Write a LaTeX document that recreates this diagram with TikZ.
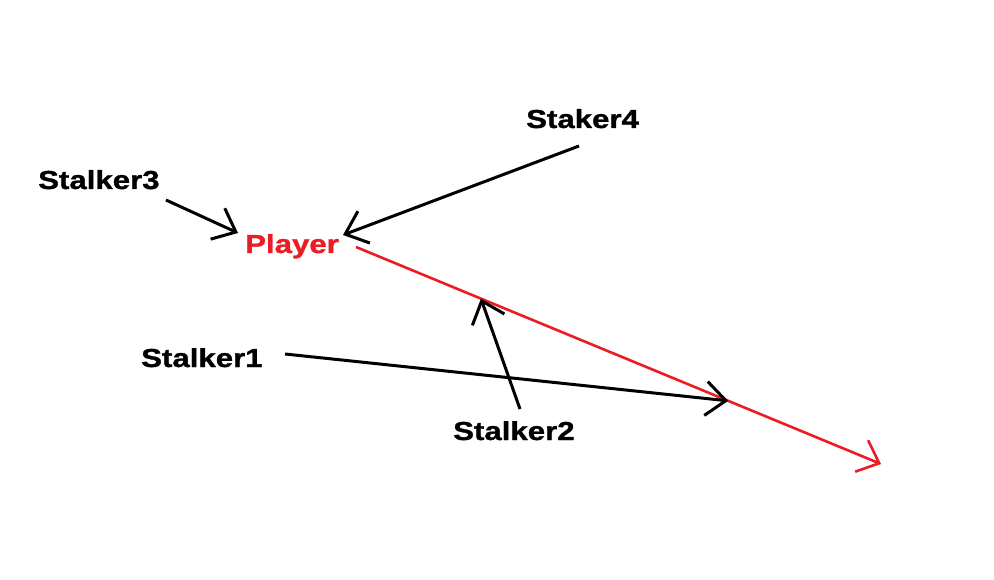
\documentclass[tikz,border=0pt]{standalone}
\usepackage{fontspec}
\usepackage{xcolor}
\usetikzlibrary{arrows.meta}
\newfontfamily\paintfont[FakeStretch=1.2, BoldFeatures={FakeBold=1.2}]{Liberation Sans}
\definecolor{PaintRed}{HTML}{ED1C24}
\definecolor{PaintBlack}{HTML}{000000}

\begin{document}
\begin{tikzpicture}[x=1pt, y=-1pt,
        label/.style={anchor=base west, inner sep=0pt, text=PaintBlack,
                      font=\paintfont\bfseries\fontsize{26}{30}\selectfont},
        chase/.style={draw=PaintBlack, line width=3pt,
                      -{Straight Barb[length=20pt, width=34pt, line width=3pt]}},
        route/.style={draw=PaintRed, line width=2.6pt,
                      -{Straight Barb[length=19pt, width=34pt, line width=2.6pt]}}]
        \useasboundingbox[fill=white] (0,0) rectangle (994,580);
        % names
        \node[label] (s3) at (38,189) {Stalker3};
        \node[label, text=PaintRed] (player) at (245,253) {Player};
        \node[label] (s4) at (526,128) {Staker4};
        \node[label] (s1) at (141,367) {Stalker1};
        \node[label] (s2) at (453,440) {Stalker2};
        % ends of the lines
        \coordinate (s3tail) at (166,200);
        \coordinate (s3head) at (238,233);
        \coordinate (s4tail) at (579,146);
        \coordinate (s4head) at (343,235);
        \coordinate (s1tail) at (285,354);
        \coordinate (s2tail) at (520,409);
        \coordinate (runstart) at (356,247);
        \coordinate (runend) at (881,464);
        \path (runstart) -- (runend) coordinate[pos=0.238] (hit2) coordinate[pos=0.709] (hit1);
        % player path
        \draw[route] (runstart) -- (runend);
        % stalkers
        \draw[chase] (s3tail) -- (s3head);
        \draw[chase] (s4tail) -- (s4head);
        \draw[chase] (s1tail) -- (hit1);
        \draw[chase] (s2tail) -- (hit2);
\end{tikzpicture}
\end{document}
